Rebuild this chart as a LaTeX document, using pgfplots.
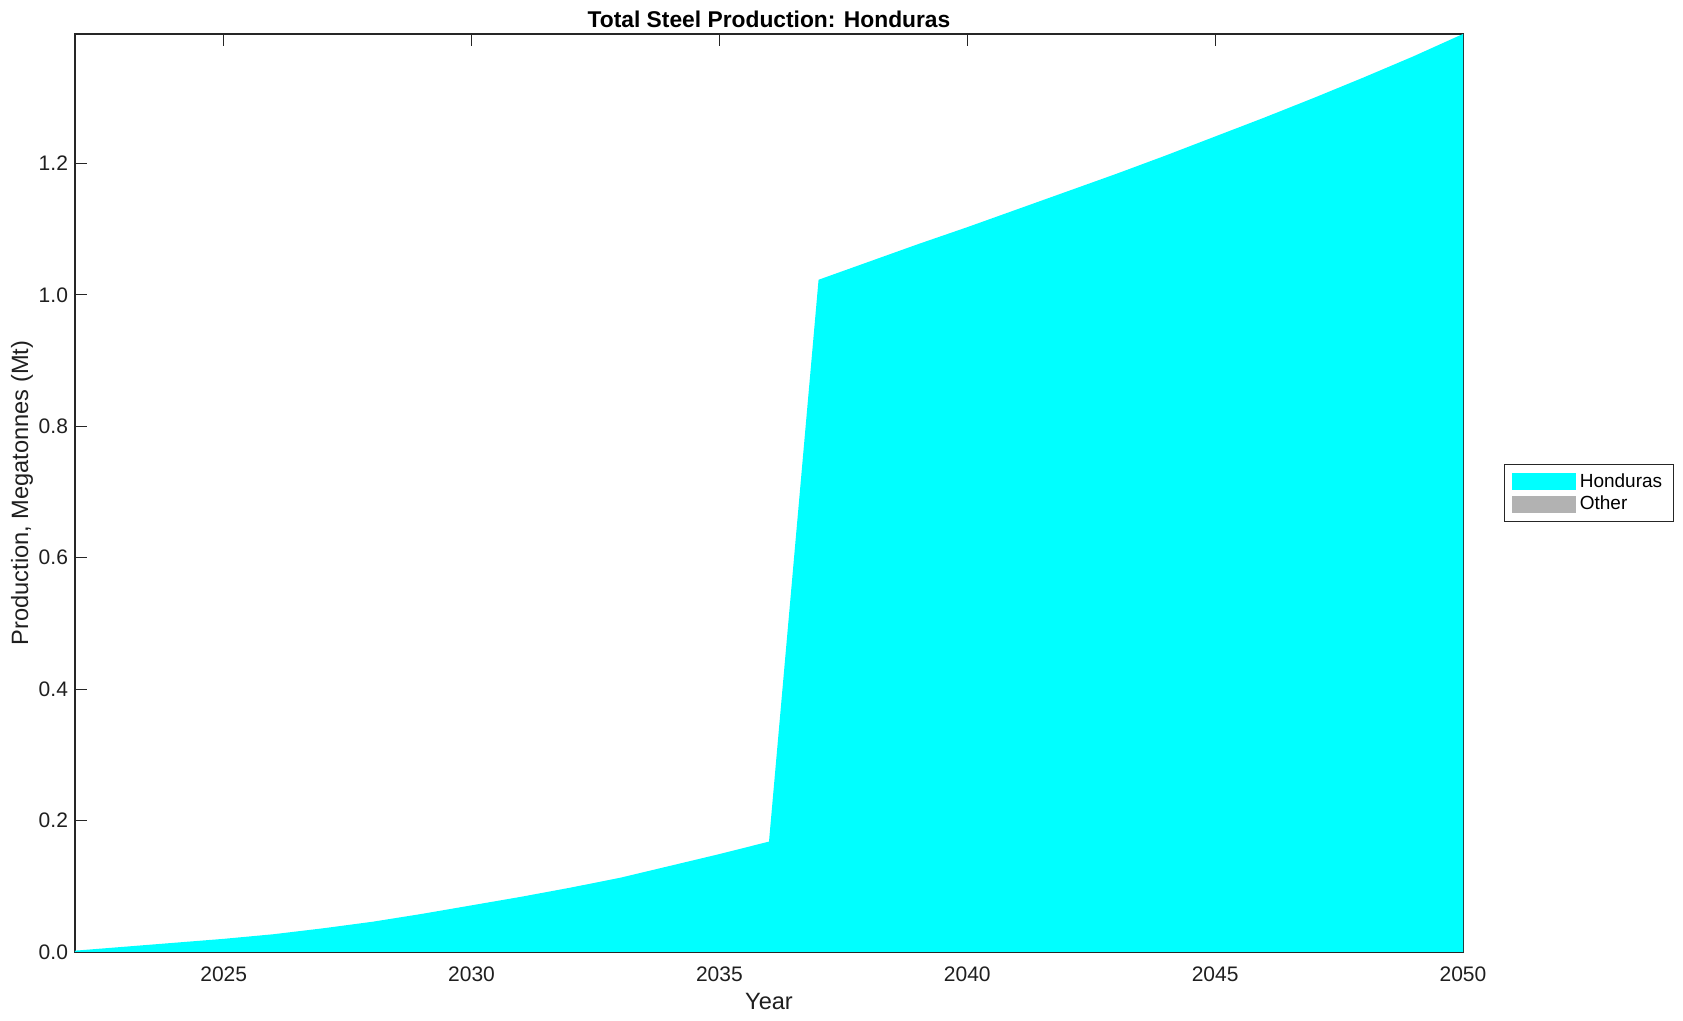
\documentclass[border=0pt]{standalone}
\usepackage{pgfplots}
\pgfplotsset{compat=1.18}
\usepackage{fontspec}
\setmainfont{Liberation Sans}
\definecolor{axgray}{gray}{0.15}
\definecolor{othergray}{gray}{0.7}
\definecolor{aqua}{RGB}{0,255,255}
\begin{document}
\begin{tikzpicture}
\path[use as bounding box] (-37.5pt,-34.5pt) rectangle (804pt,476pt);
\begin{axis}[
  at={(0,0)}, anchor=south west,
  scale only axis,
  width=694pt, height=459pt,
  xmin=2022, xmax=2050,
  ymin=0, ymax=1.397,
  xtick={2025,2030,2035,2040,2045,2050},
  ytick={0,0.2,0.4,0.6,0.8,1.0,1.2},
  xticklabel style={/pgf/number format/1000 sep={}},
  yticklabel style={/pgf/number format/.cd, fixed, fixed zerofill, precision=1},
  /pgf/number format/assume math mode=true,
  tick align=inside,
  major tick length=6pt,
  tick style={axgray, line width=0.5pt},
  axis line style={axgray, line width=0.6pt},
  ticklabel style={font=\fontsize{10.5}{12}\selectfont, text=black!88},
  xticklabel style={yshift=-4pt},
  title={\textbf{Total Steel Production: Honduras}},
  title style={font=\fontsize{11.4}{13}\selectfont, yshift=-6.5pt},
  xlabel={Year},
  ylabel={Production, Megatonnes (Mt)},
  label style={font=\fontsize{11.8}{13}\selectfont, text=black!88},
  xlabel style={yshift=1pt},
  ylabel style={yshift=-4pt},
  legend style={at={(rel axis cs:1,0.5)}, anchor=west, xshift=20.5pt,
    font=\fontsize{9.5}{11}\selectfont, draw=axgray, line width=0.5pt,
    inner xsep=3.5pt, inner ysep=2.5pt, row sep=-1.2pt, cells={anchor=west}},
  legend image code/.code={\fill[#1, draw=none] (0cm,-0.15cm) rectangle (1.13cm,0.15cm);},
]
\addplot[fill=aqua, draw=none] coordinates {
(2022,0.002) (2023,0.008) (2024,0.014) (2025,0.020) (2026,0.027)
(2027,0.036) (2028,0.046) (2029,0.058) (2030,0.071) (2031,0.084)
(2032,0.098) (2033,0.113) (2034,0.131) (2035,0.149) (2036,0.168)
(2037,1.023) (2038,1.050) (2039,1.077) (2040,1.103) (2041,1.130)
(2042,1.157) (2043,1.184) (2044,1.212) (2045,1.241) (2046,1.270)
(2047,1.300) (2048,1.331) (2049,1.363) (2050,1.397)
} \closedcycle;
\addlegendentry{Honduras}
\addlegendimage{fill=othergray, draw=none}
\addlegendentry{Other}
\end{axis}
\end{tikzpicture}
\end{document}
